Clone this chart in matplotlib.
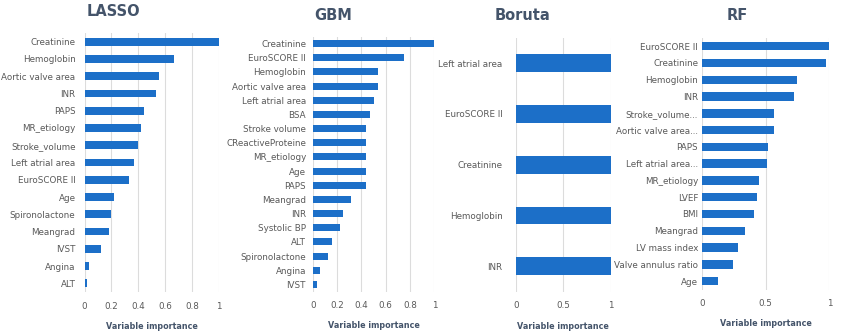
import matplotlib
matplotlib.use("Agg")
import matplotlib.pyplot as plt

# variable importance per method (top to bottom as shown)
lasso_vars = ["Creatinine", "Hemoglobin", "Aortic valve area", "INR", "PAPS",
              "MR_etiology", "Stroke_volume", "Left atrial area", "EuroSCORE II",
              "Age", "Spironolactone", "Meangrad", "IVST", "Angina", "ALT"]
lasso_vals = [1.0, 0.666, 0.552, 0.532, 0.44, 0.423, 0.40, 0.369, 0.329,
              0.218, 0.198, 0.183, 0.126, 0.032, 0.022]

gbm_vars = ["Creatinine", "EuroSCORE II", "Hemoglobin", "Aortic valve area",
            "Left atrial area", "BSA", "Stroke volume", "CReactiveProteine",
            "MR_etiology", "Age", "PAPS", "Meangrad", "INR", "Systolic BP",
            "ALT", "Spironolactone", "Angina", "IVST"]
gbm_vals = [1.0, 0.748, 0.534, 0.534, 0.501, 0.468, 0.436, 0.436, 0.436,
            0.436, 0.436, 0.312, 0.247, 0.222, 0.156, 0.123, 0.060, 0.033]

boruta_vars = ["Left atrial area", "EuroSCORE II", "Creatinine", "Hemoglobin", "INR"]
boruta_vals = [1, 1, 1, 1, 1]

rf_vars = ["EuroSCORE II", "Creatinine", "Hemoglobin", "INR", "Stroke_volume...",
           "Aortic valve area...", "PAPS", "Left atrial area...", "MR_etiology",
           "LVEF", "BMI", "Meangrad", "LV mass index", "Valve annulus ratio", "Age"]
rf_vals = [1.0, 0.974, 0.743, 0.722, 0.567, 0.564, 0.517, 0.509, 0.449,
           0.433, 0.404, 0.339, 0.281, 0.239, 0.121]

W, H = 843, 333
BAR = "#1c6fc8"
GRID = "#dcdcdc"
TXT = "#595959"
TITLE = "#44546a"

fig = plt.figure(figsize=(W / 100, H / 100), dpi=100)


def panel(left, right, top, bottom, names, vals, title, title_x, title_y, ticks,
          ticklabels, bar_h, label_pad):
    ax = fig.add_axes([left / W, 1 - bottom / H, (right - left) / W, (bottom - top) / H])
    pos = list(range(len(names)))
    ax.barh(pos, vals, height=bar_h, color=BAR, zorder=3)
    ax.set_ylim(len(names) - 0.5, -0.5)
    ax.set_xlim(0, 1)
    ax.set_yticks(pos)
    ax.set_yticklabels(names, fontsize=6.3, color=TXT)
    ax.set_xticks(ticks)
    ax.set_xticklabels(ticklabels, fontsize=6.3, color=TXT)
    ax.tick_params(axis="both", length=0)
    ax.tick_params(axis="y", pad=label_pad)
    ax.tick_params(axis="x", pad=7)
    for s in ax.spines.values():
        s.set_visible(False)
    ax.grid(axis="x", color=GRID, linewidth=0.8, zorder=0)
    ax.set_xlabel("Variable importance", fontsize=5.8, color=TITLE,
                  fontweight="bold", labelpad=8)
    fig.text(title_x / W, 1 - title_y / H, title, fontsize=10.5, fontweight="bold",
             color=TITLE, ha="center", va="center")
    return ax


t5 = [0, 0.2, 0.4, 0.6, 0.8, 1]
l5 = ["0", "0.2", "0.4", "0.6", "0.8", "1"]
panel(84.5, 219, 33, 292, lasso_vars, lasso_vals, "LASSO", 113, 12, t5, l5, 0.45, 6.5)
panel(312.7, 434.3, 36.5, 291.5, gbm_vars, gbm_vals, "GBM", 333, 15, t5, l5, 0.5, 4.8)
panel(515.7, 611, 37.6, 291.7, boruta_vars, boruta_vals, "Boruta", 523, 15,
      [0, 0.5, 1], ["0", "0.5", "1"], 0.35, 9.5)
panel(702.3, 829.3, 37.8, 289.5, rf_vars, rf_vals, "RF", 737, 15,
      [0, 0.5, 1], ["0", "0.5", "1"], 0.5, 3)

fig.savefig("out.png", dpi=100, facecolor="white")
